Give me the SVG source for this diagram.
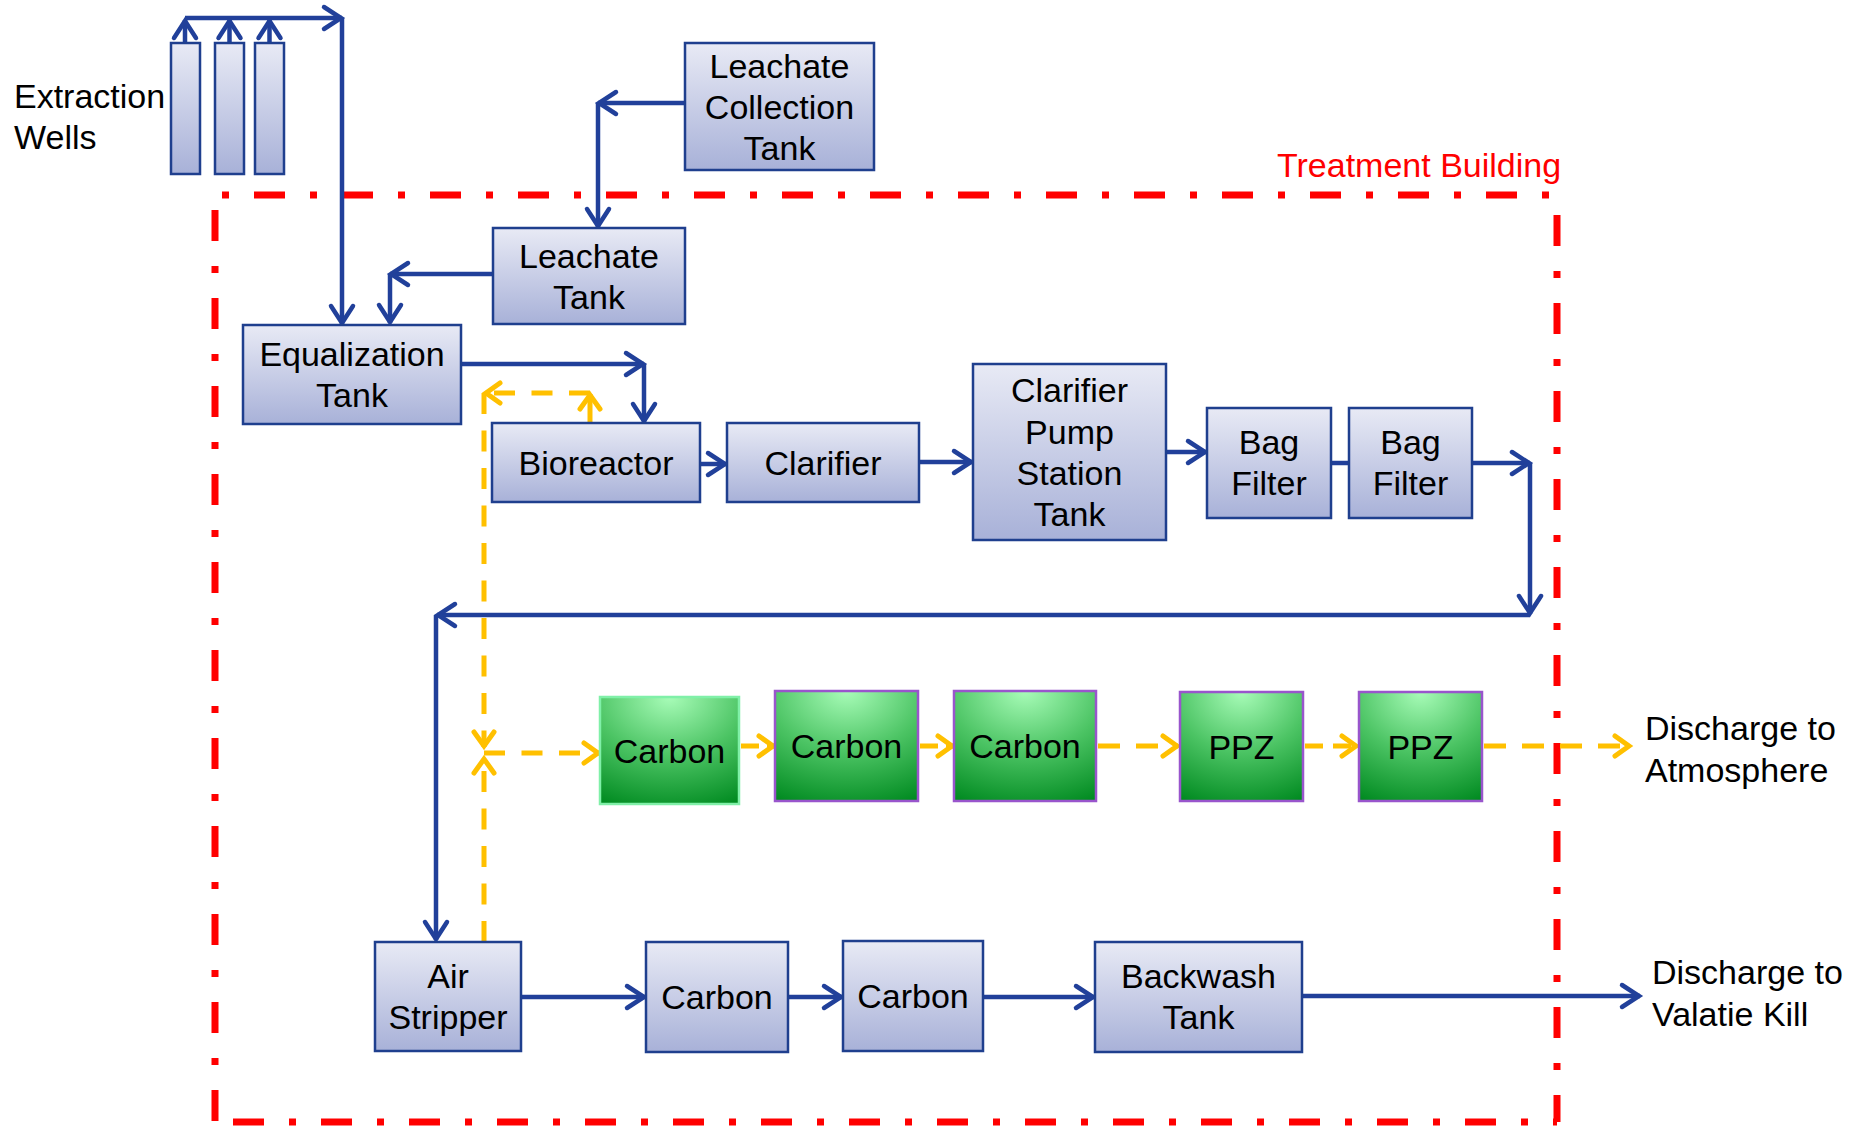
<svg xmlns="http://www.w3.org/2000/svg" width="1870" height="1127" viewBox="0 0 1870 1127">
<style>
.box{fill:url(#gb);stroke:#1F3F8E;stroke-width:2.5}
.gbox{fill:url(#gg);stroke:#9955CC;stroke-width:2.5}
.t{font-family:"Liberation Sans",Arial,sans-serif;font-size:34px;fill:#000}
.c{text-anchor:middle}
.bl{fill:none;stroke:#21409A;stroke-width:4.5}
.yl{fill:none;stroke:#FFC000;stroke-width:5;stroke-dasharray:21 16.5}
.red{fill:none;stroke:#FF0000;stroke-width:7;stroke-dasharray:31 25 7 25}
</style>
<defs>
<linearGradient id="gb" x1="0" y1="0" x2="0" y2="1">
<stop offset="0" stop-color="#E8EAF5"/>
<stop offset="1" stop-color="#A8B1D8"/>
</linearGradient>
<radialGradient id="gg" cx="0.5" cy="0" r="1.1">
<stop offset="0" stop-color="#A8FCB8"/>
<stop offset="0.5" stop-color="#4CC464"/>
<stop offset="1" stop-color="#008A20"/>
</radialGradient>
<marker id="ab" markerUnits="userSpaceOnUse" markerWidth="40" markerHeight="40" viewBox="-25 -20 30 40" refX="1" refY="0" orient="auto" overflow="visible">
<path d="M-17,-11 L0,0 L-17,11" fill="none" stroke="#21409A" stroke-width="4.5" stroke-linecap="round"/>
</marker>
<marker id="ay" markerUnits="userSpaceOnUse" markerWidth="40" markerHeight="40" viewBox="-25 -20 30 40" refX="1" refY="0" orient="auto" overflow="visible">
<path d="M-14,-10 L0,0 L-14,10" fill="none" stroke="#FFC000" stroke-width="5" stroke-linecap="round"/>
</marker>
</defs>

<g id="treatment-building">
<line class="red" x1="215" y1="195" x2="1557" y2="195" stroke-dashoffset="49"/>
<line class="red" x1="215" y1="195" x2="215" y2="1122" stroke-dashoffset="73"/>
<line class="red" x1="1557" y1="195" x2="1557" y2="1122" stroke-dashoffset="68"/>
<line class="red" x1="215" y1="1122" x2="1557" y2="1122" stroke-dashoffset="70"/>
<text class="t" x="1277" y="177" fill="#FF0000" style="fill:#FF0000">Treatment Building</text>
</g>

<g id="connectors">
<path class="bl" d="M185,43 V20" marker-end="url(#ab)"/>
<path class="bl" d="M229.5,43 V20" marker-end="url(#ab)"/>
<path class="bl" d="M269.5,43 V20" marker-end="url(#ab)"/>
<path class="bl" d="M185,18 H342" marker-end="url(#ab)"/>
<path class="bl" d="M342,18 V324" marker-end="url(#ab)"/>
<path class="bl" d="M685,103 H598" marker-end="url(#ab)"/>
<path class="bl" d="M598,103 V227" marker-end="url(#ab)"/>
<path class="bl" d="M493,274 H390" marker-end="url(#ab)"/>
<path class="bl" d="M390,274 V323" marker-end="url(#ab)"/>
<path class="bl" d="M461,364 H644" marker-end="url(#ab)"/>
<path class="bl" d="M644,364 V422" marker-end="url(#ab)"/>
<path class="bl" d="M700,464 H726" marker-end="url(#ab)"/>
<path class="bl" d="M919,462 H972" marker-end="url(#ab)"/>
<path class="bl" d="M1166,452 H1206" marker-end="url(#ab)"/>
<path class="bl" d="M1331,463 H1349"/>
<path class="bl" d="M1472,463 H1530" marker-end="url(#ab)"/>
<path class="bl" d="M1530,463 V614" marker-end="url(#ab)"/>
<path class="bl" d="M1530,615 H437" marker-end="url(#ab)"/>
<path class="bl" d="M436,615 V940" marker-end="url(#ab)"/>
<path class="bl" d="M521,997 H645" marker-end="url(#ab)"/>
<path class="bl" d="M788,997 H842" marker-end="url(#ab)"/>
<path class="bl" d="M983,997 H1094" marker-end="url(#ab)"/>
<path class="bl" d="M1302,996 H1640" marker-end="url(#ab)"/>

<path class="yl" d="M590,423 V394" style="stroke-dasharray:none" marker-end="url(#ay)"/>
<path class="yl" d="M590,393 H485" marker-end="url(#ay)"/>
<path class="yl" d="M484,393 V747" marker-end="url(#ay)"/>
<path class="yl" d="M484,942 V758" marker-end="url(#ay)"/>
<path class="yl" d="M484,753 H599" marker-end="url(#ay)"/>
<path class="yl" d="M741,746 H774" style="stroke-dasharray:18 8" marker-end="url(#ay)"/>
<path class="yl" d="M920,746 H953" style="stroke-dasharray:18 8" marker-end="url(#ay)"/>
<path class="yl" d="M1098,746 H1178" style="stroke-dasharray:22 16" marker-end="url(#ay)"/>
<path class="yl" d="M1305,746 H1357" style="stroke-dasharray:18 10" marker-end="url(#ay)"/>
<path class="yl" d="M1484,746 H1630" style="stroke-dasharray:22 16" marker-end="url(#ay)"/>
</g>

<g id="extraction-wells">
<rect class="box" x="171" y="43" width="29" height="131"/>
<rect class="box" x="215" y="43" width="29" height="131"/>
<rect class="box" x="255" y="43" width="29" height="131"/>
<text class="t" x="14" y="108">Extraction</text>
<text class="t" x="14" y="149">Wells</text>
</g>

<g id="leachate-collection-tank">
<rect class="box" x="685" y="43" width="189" height="127"/>
<text class="t c" x="779.5" y="78">Leachate</text>
<text class="t c" x="779.5" y="119">Collection</text>
<text class="t c" x="779.5" y="160">Tank</text>
</g>

<g id="leachate-tank">
<rect class="box" x="493" y="228" width="192" height="96"/>
<text class="t c" x="589" y="268">Leachate</text>
<text class="t c" x="589" y="309">Tank</text>
</g>

<g id="equalization-tank">
<rect class="box" x="243" y="325" width="218" height="99"/>
<text class="t c" x="352" y="366">Equalization</text>
<text class="t c" x="352" y="407">Tank</text>
</g>

<g id="bioreactor">
<rect class="box" x="492" y="423" width="208" height="79"/>
<text class="t c" x="596" y="475">Bioreactor</text>
</g>

<g id="clarifier">
<rect class="box" x="727" y="423" width="192" height="79"/>
<text class="t c" x="823" y="475">Clarifier</text>
</g>

<g id="clarifier-pump-station-tank">
<rect class="box" x="973" y="364" width="193" height="176"/>
<text class="t c" x="1069.5" y="402">Clarifier</text>
<text class="t c" x="1069.5" y="443.5">Pump</text>
<text class="t c" x="1069.5" y="485">Station</text>
<text class="t c" x="1069.5" y="526">Tank</text>
</g>

<g id="bag-filter-1">
<rect class="box" x="1207" y="408" width="124" height="110"/>
<text class="t c" x="1269" y="454">Bag</text>
<text class="t c" x="1269" y="495">Filter</text>
</g>

<g id="bag-filter-2">
<rect class="box" x="1349" y="408" width="123" height="110"/>
<text class="t c" x="1410.5" y="454">Bag</text>
<text class="t c" x="1410.5" y="495">Filter</text>
</g>

<g id="vapor-carbon-1">
<rect class="gbox" x="600" y="697" width="139" height="107" style="stroke:#80F0A8"/>
<text class="t c" x="669.5" y="763">Carbon</text>
</g>

<g id="vapor-carbon-2">
<rect class="gbox" x="775" y="691" width="143" height="110"/>
<text class="t c" x="846.5" y="758">Carbon</text>
</g>

<g id="vapor-carbon-3">
<rect class="gbox" x="954" y="691" width="142" height="110"/>
<text class="t c" x="1025" y="758">Carbon</text>
</g>

<g id="ppz-1">
<rect class="gbox" x="1180" y="692" width="123" height="109"/>
<text class="t c" x="1241.5" y="759">PPZ</text>
</g>

<g id="ppz-2">
<rect class="gbox" x="1359" y="692" width="123" height="109"/>
<text class="t c" x="1420.5" y="759">PPZ</text>
</g>

<g id="discharge-atmosphere">
<text class="t" x="1645" y="740">Discharge to</text>
<text class="t" x="1645" y="782">Atmosphere</text>
</g>

<g id="air-stripper">
<rect class="box" x="375" y="942" width="146" height="109"/>
<text class="t c" x="448" y="988">Air</text>
<text class="t c" x="448" y="1029">Stripper</text>
</g>

<g id="carbon-1">
<rect class="box" x="646" y="942" width="142" height="110"/>
<text class="t c" x="717" y="1009">Carbon</text>
</g>

<g id="carbon-2">
<rect class="box" x="843" y="941" width="140" height="110"/>
<text class="t c" x="913" y="1008">Carbon</text>
</g>

<g id="backwash-tank">
<rect class="box" x="1095" y="942" width="207" height="110"/>
<text class="t c" x="1198.5" y="988">Backwash</text>
<text class="t c" x="1198.5" y="1029">Tank</text>
</g>

<g id="discharge-valatie">
<text class="t" x="1652" y="984">Discharge to</text>
<text class="t" x="1652" y="1026">Valatie Kill</text>
</g>
</svg>
